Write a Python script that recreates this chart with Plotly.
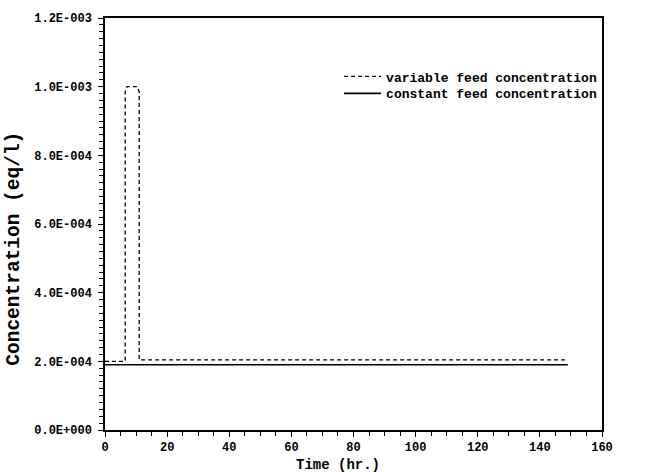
import plotly.graph_objects as go

# Data
t_variable = [0, 6.5, 6.5, 7.1, 10.4, 11.0, 11.0, 149]
c_variable = [2.00e-4, 2.00e-4, 9.85e-4, 1.0e-3, 1.0e-3, 9.85e-4, 2.04e-4, 2.04e-4]
t_constant = [0, 149]
c_constant = [1.90e-4, 1.90e-4]

x_ticks = [0, 20, 40, 60, 80, 100, 120, 140, 160]
y_ticks = [0.0, 2.0e-4, 4.0e-4, 6.0e-4, 8.0e-4, 1.0e-3, 1.2e-3]
y_ticklabels = ["0.0E+000", "2.0E-004", "4.0E-004", "6.0E-004", "8.0E-004", "1.0E-003", "1.2E-003"]

mono = "Liberation Mono"

fig = go.Figure()
fig.add_trace(go.Scatter(
    x=t_variable, y=c_variable, mode="lines",
    name="variable feed concentration", legend="legend",
    line=dict(color="black", width=1.3, dash="4px,3px"),
))
fig.add_trace(go.Scatter(
    x=t_constant, y=c_constant, mode="lines",
    name="constant feed concentration", legend="legend2",
    line=dict(color="black", width=1.6),
))

legend_common = dict(
    xanchor="left", yanchor="middle",
    bgcolor="rgba(0,0,0,0)", borderwidth=0,
    font=dict(family=mono, size=13, color="black", weight="bold"),
    itemwidth=37,
)

fig.update_layout(
    width=649, height=472,
    margin=dict(l=105, r=47, t=16, b=42),
    paper_bgcolor="white", plot_bgcolor="white",
    showlegend=True,
    legend=dict(x=0.471, y=0.858, **legend_common),
    legend2=dict(x=0.471, y=0.817, **legend_common),
    annotations=[
        dict(text="Time (hr.)", xref="paper", yref="paper", x=0.469, y=0,
             yshift=-35, xanchor="center", yanchor="middle", showarrow=False,
             font=dict(family=mono, size=14, color="black", weight="bold")),
        dict(text="Concentration (eq/l)", xref="paper", yref="paper", x=0, y=0.44,
             xshift=-91, textangle=-90, xanchor="center", yanchor="middle", showarrow=False,
             font=dict(family=mono, size=19.5, color="black", weight="bold")),
    ],
)

axis_common = dict(
    showgrid=False, zeroline=False,
    showline=True, linecolor="black", linewidth=1.5, mirror=True,
    ticks="outside", ticklen=5, tickwidth=1.3, tickcolor="black",
    tickfont=dict(family=mono, size=12, color="black", weight="bold"),
)

fig.update_xaxes(
    range=[0, 160], tickvals=x_ticks, ticktext=[str(v) for v in x_ticks],
    minor=dict(dtick=5, tick0=0, ticks="outside", ticklen=4, tickwidth=1.2, tickcolor="black", showgrid=False),
    **axis_common,
)
fig.update_yaxes(
    range=[0, 1.2e-3], tickvals=y_ticks, ticktext=y_ticklabels,
    minor=dict(dtick=2e-5, tick0=0, ticks="outside", ticklen=4, tickwidth=1.2, tickcolor="black", showgrid=False),
    ticklabelstandoff=4,
    **axis_common,
)

fig.write_html("out.html")
